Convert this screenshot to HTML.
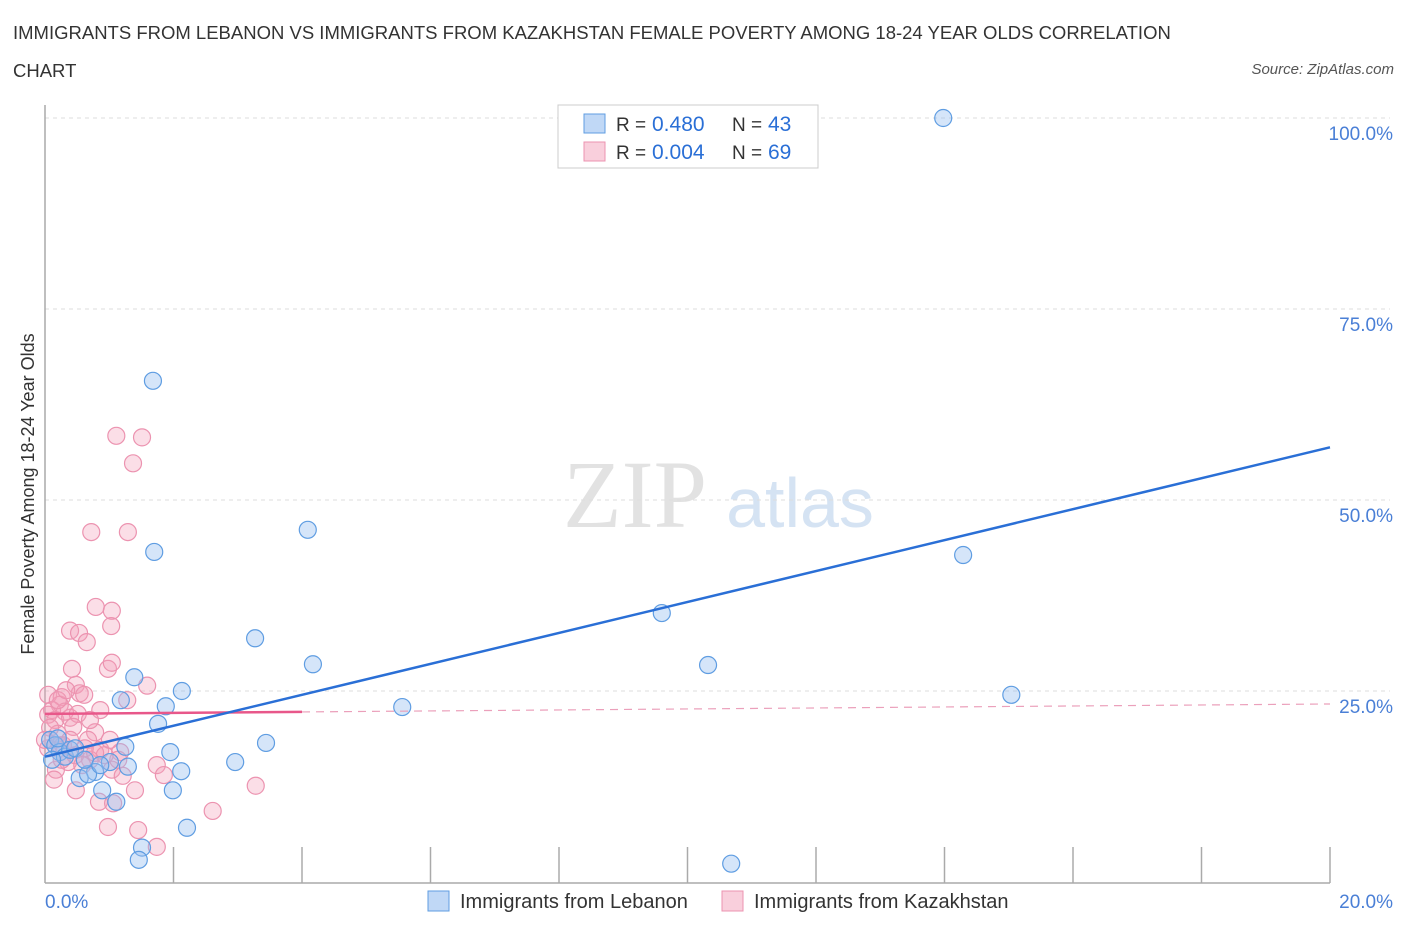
<!DOCTYPE html>
<html><head><meta charset="utf-8"><style>
body{margin:0;background:#fff;font-family:"Liberation Sans",sans-serif;}
#wrap{position:relative;width:1406px;height:930px;overflow:hidden;}
.t{position:absolute;color:#333;}
</style></head><body>
<div id="wrap">
<div class="t" style="left:13px;top:14px;font-size:18.5px;line-height:38px;width:1180px;">IMMIGRANTS FROM LEBANON VS IMMIGRANTS FROM KAZAKHSTAN FEMALE POVERTY AMONG 18-24 YEAR OLDS CORRELATION CHART</div>
<div class="t" style="right:12px;top:61px;font-size:15px;font-style:italic;color:#555;">Source: ZipAtlas.com</div>
<svg id="svg" width="1406" height="930" style="position:absolute;left:0;top:0"></svg>
</div>
<script>
const blueX=[13.98,1.68,1.70,4.09,14.29,9.60,3.27,10.32,4.17,15.04,5.56,1.39,2.13,1.18,1.88,1.76,3.44,1.25,1.95,2.96,1.01,1.29,2.12,0.78,0.54,0.67,1.99,0.89,1.11,2.21,1.51,1.46,10.68,0.08,0.16,0.23,0.31,0.39,0.11,0.47,0.62,0.86,0.20];
const blueY=[100,65.6,43.2,46.1,42.8,35.2,31.9,28.4,28.5,24.5,22.9,26.8,25.0,23.8,23.0,20.7,18.2,17.7,17.0,15.7,15.7,15.1,14.5,14.4,13.6,14.1,12.0,12.0,10.5,7.1,4.5,2.9,2.4,18.6,17.9,17.0,16.4,17.3,16.0,17.5,16.0,15.3,18.8];
const pinkX=[1.11,1.51,1.37,0.72,1.29,0.79,1.04,1.03,0.39,0.53,0.65,0.42,0.98,1.04,1.59,0.48,0.54,0.61,0.05,0.26,1.28,0.23,0.11,0.05,0.16,0.39,0.31,0.51,0.44,0.20,0.78,0.67,0.23,0.86,0.93,1.17,0.70,0.36,0.47,0.17,0.05,0.58,1.04,1.21,1.74,1.85,0.14,0.48,1.40,0.84,1.06,2.61,3.28,0.98,1.45,1.74,0.28,0.62,0.78,0.08,0.20,0.33,1.01,1.14,0,0.86,0.70,0.39,0.26];
const pinkY=[58.4,58.2,54.8,45.8,45.8,36.0,35.5,33.5,32.9,32.6,31.4,27.9,27.9,28.7,25.7,25.8,24.7,24.5,24.5,24.2,23.8,23.2,22.5,21.9,21.2,21.5,22.3,22.0,20.3,19.4,19.6,18.6,17.9,17.3,16.6,17.0,16.0,15.7,16.6,14.7,17.5,15.3,14.7,13.9,15.3,14.0,13.4,12.0,12.0,10.5,10.3,9.3,12.6,7.2,6.8,4.6,17.9,17.5,16.9,20.2,23.8,25.1,18.6,16.0,18.6,22.5,21.2,18.6,16.0];
const yTicks=[25,50,75,100];
const yTickLabels=["25.0%","50.0%","75.0%","100.0%"];
const blueTrend=[16.4,56.9];
const pinkTrend=[22.0,23.3];
const X0=45,X1=1330,Y0=882,Y1=118;
const sx=v=>X0+v/20*(X1-X0);
const sy=v=>Y0-v/100*(Y0-Y1);
const svg=document.getElementById('svg');
const NS='http://www.w3.org/2000/svg';
function mk(tag,at,parent){const e=document.createElementNS(NS,tag);for(const k in at)e.setAttribute(k,at[k]);(parent||svg).appendChild(e);return e;}
let w=mk('text',{x:635,y:527,'font-size':96,'font-family':'Liberation Serif',fill:'#e2e2e2','text-anchor':'middle'});w.textContent='ZIP';


let w2=mk('text',{x:800,y:527,'font-size':70,'font-family':'Liberation Sans',fill:'#d5e3f3','text-anchor':'middle'});w2.textContent='atlas';


yTicks.forEach((t,i)=>{
 const g=mk('line',{x1:X0,x2:1390,y1:sy(t),y2:sy(t),stroke:'#ddd','stroke-dasharray':'4,4'});
 
 
 const l=mk('text',{x:1393,y:sy(t)+22,'font-size':19,fill:'#4a7fd6','text-anchor':'end','font-family':'Liberation Sans'});l.textContent=yTickLabels[i];
 
 
});
let ax=mk('line',{x1:X0,x2:X0,y1:105,y2:Y0+1,stroke:'#aaa','stroke-width':1.5});


let bx=mk('line',{x1:X0,x2:X1,y1:Y0+1,y2:Y0+1,stroke:'#aaa','stroke-width':1.5});


for(let i=1;i<=10;i++){const tk=mk('line',{x1:sx(i*2),x2:sx(i*2),y1:Y0-35,y2:Y0+1,stroke:'#aaa','stroke-width':1.5});
 
 }
function pts(xs,ys,fill,stroke,name){xs.forEach((v,i)=>{const c=mk('circle',{cx:sx(v),cy:sy(ys[i]),r:8.5,fill:fill,stroke:stroke,'stroke-width':1.2});
 
 });}
pts(pinkX,pinkY,'rgba(244,160,186,0.35)','#ec93b0','kazakhstan-point');
pts(blueX,blueY,'rgba(150,190,240,0.4)','#5f9de2','lebanon-point');
let pt=mk('line',{x1:sx(0),y1:sy(pinkTrend[0]),x2:sx(4),y2:sy(pinkTrend[0]+(pinkTrend[1]-pinkTrend[0])*0.2),stroke:'#e8578a','stroke-width':2.5});


let pd=mk('line',{x1:sx(4),y1:sy(pinkTrend[0]+(pinkTrend[1]-pinkTrend[0])*0.2),x2:sx(20),y2:sy(pinkTrend[1]),stroke:'#eba0bb','stroke-width':1.2,'stroke-dasharray':'8,6'});


let bt=mk('line',{x1:sx(0),y1:sy(blueTrend[0]),x2:sx(20),y2:sy(blueTrend[1]),stroke:'#2a6fd6','stroke-width':2.5});


let x0=mk('text',{x:45,y:908,'font-size':19,fill:'#4a7fd6','font-family':'Liberation Sans'});x0.textContent='0.0%';


let x1=mk('text',{x:1393,y:908,'font-size':19,fill:'#4a7fd6','text-anchor':'end','font-family':'Liberation Sans'});x1.textContent='20.0%';


let yt=mk('text',{x:34,y:494,'font-size':18,fill:'#333','text-anchor':'middle','font-family':'Liberation Sans',transform:'rotate(-90 34 494)'});yt.textContent='Female Poverty Among 18-24 Year Olds';


let lb=mk('rect',{x:558,y:105,width:260,height:63,fill:'#fff',stroke:'#ccc'});


[[0,'0.480','43','rgba(150,190,240,0.6)','#5f9de2'],[1,'0.004','69','rgba(244,160,186,0.5)','#ec93b0']].forEach(r=>{
 const y=114+r[0]*28;
 const s=mk('rect',{x:584,y:y,width:21,height:19,fill:r[3],stroke:r[4]});
 
 
 const a=mk('text',{x:616,y:y+17,'font-size':19,fill:'#333','font-family':'Liberation Sans'});a.textContent='R =';
 
 
 const b=mk('text',{x:652,y:y+17,'font-size':21,fill:'#2a6fd6','font-family':'Liberation Sans'});b.textContent=r[1];
 
 
 const c=mk('text',{x:732,y:y+17,'font-size':19,fill:'#333','font-family':'Liberation Sans'});c.textContent='N =';
 
 
 const d=mk('text',{x:768,y:y+17,'font-size':21,fill:'#2a6fd6','font-family':'Liberation Sans'});d.textContent=r[2];
 
 
});
[[428,'Immigrants from Lebanon','rgba(150,190,240,0.6)','#5f9de2'],[722,'Immigrants from Kazakhstan','rgba(244,160,186,0.5)','#ec93b0']].forEach(r=>{
 const s=mk('rect',{x:r[0],y:891,width:21,height:20,fill:r[2],stroke:r[3]});
 
 
 const t=mk('text',{x:r[0]+32,y:908,'font-size':20,fill:'#333','font-family':'Liberation Sans'});t.textContent=r[1];
 
 
});
</script>
</body></html>
